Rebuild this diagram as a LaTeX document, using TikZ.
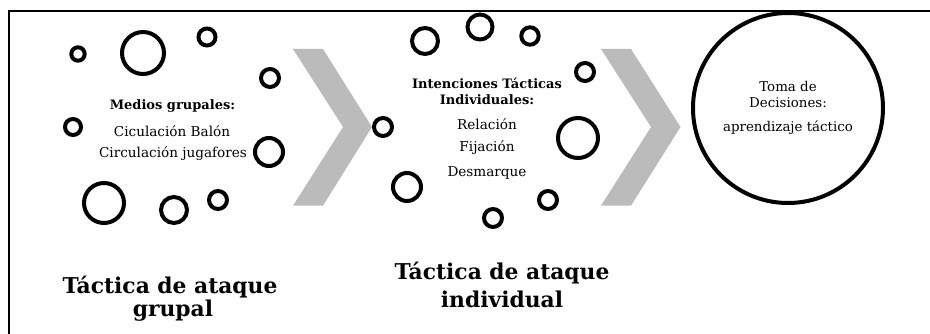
\documentclass[tikz,border=0pt]{standalone}
\usepackage{fontspec}
\setmainfont{DejaVu Serif}
\definecolor{chev}{RGB}{187,187,187}
\begin{document}
\begin{tikzpicture}[x=1pt,y=-1pt,
  ring/.style={circle,draw=black,line width=4pt,inner sep=0pt,minimum size=#1},
  body/.style={font=\fontsize{13.6}{16}\selectfont,inner sep=0pt,anchor=center},
  bodyb/.style={font=\fontsize{13}{15}\selectfont\bfseries,inner sep=0pt,anchor=center},
  small/.style={font=\fontsize{13.4}{15}\selectfont,inner sep=0pt,anchor=center},
  title/.style={font=\fontsize{21.8}{24}\selectfont\bfseries,inner sep=0pt,anchor=center},
  chevron/.style={fill=chev,draw=none}]
\useasboundingbox (0,0) rectangle (930,334);
\draw[line width=1.6pt] (930,11) -- (9,11) -- (9,334);
% chevrons
\fill[chevron] (293,49) -- (323,49) -- (372,127) -- (323,205.7) -- (293,205.7) -- (343,127) -- cycle;
\fill[chevron] (601,49) -- (631,49) -- (680.5,127) -- (631,205.7) -- (601,205.7) -- (651,127) -- cycle;
% group 1 rings (diameter = 2r - lw)
\node[ring=13.4pt] (c1) at (78,54) {};
\node[ring=42pt] (c2) at (143,53) {};
\node[ring=17pt] (c3) at (207,37) {};
\node[ring=18pt] (c4) at (270,78) {};
\node[ring=16pt] (c5) at (73,127) {};
\node[ring=28pt] (c6) at (269,152) {};
\node[ring=40pt] (c7) at (104,203) {};
\node[ring=26pt] (c8) at (174,210) {};
\node[ring=18pt] (c9) at (218,200) {};
% group 2 rings
\node[ring=26pt] (d1) at (425,41) {};
\node[ring=25pt] (d2) at (480,27) {};
\node[ring=17.4pt] (d3) at (530,36) {};
\node[ring=18pt] (d4) at (585,72) {};
\node[ring=18pt] (d5) at (383,127) {};
\node[ring=40pt] (d6) at (578,138) {};
\node[ring=28pt] (d7) at (407,187) {};
\node[ring=18pt] (d8) at (548,200) {};
\node[ring=18pt] (d9) at (493,218) {};
% big circle
\node[circle,draw=black,line width=4pt,minimum size=190pt,inner sep=0pt] (big) at (788,108) {};
% texts group 1
\node[bodyb] (m1) at (172.5,106) {Medios grupales:};
\node[body] (m2) at (172,131) {Ciculación Balón};
\node[body] (m3) at (173,154) {Circulación jugafores};
\node[title] (t1a) at (170,287) {Táctica de ataque};
\node[title] (t1b) at (173,311) {grupal};
% texts group 2
\node[bodyb] (i1) at (487,83) {Intenciones Tácticas};
\node[bodyb] (i2) at (487,100) {Individuales:};
\node[body] (i3) at (487,124) {Relación};
\node[body] (i4) at (487,148) {Fijación};
\node[body] (i5) at (487,173) {Desmarque};
\node[title] (t2a) at (502,273) {Táctica de ataque};
\node[title] (t2b) at (502,299) {individual};
% big circle text
\node[small] (b1) at (788,87) {Toma de};
\node[small] (b2) at (788,103) {Decisiones:};
\node[small] (b3) at (788,128) {aprendizaje táctico};
\end{tikzpicture}
\end{document}
